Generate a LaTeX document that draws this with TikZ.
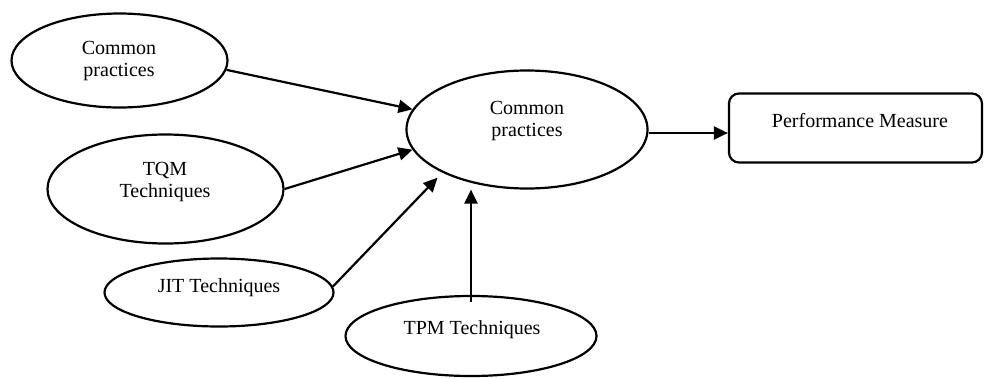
\documentclass[tikz,border=0pt]{standalone}
\usepackage{fontspec}
\setmainfont{Liberation Serif}
\usetikzlibrary{shapes.geometric,arrows.meta}
\begin{document}
\begin{tikzpicture}[x=1pt,y=-1pt,
  oval/.style={draw, ellipse, line width=2.2pt, inner sep=0pt},
  lbl/.style={font=\fontsize{20}{22}\selectfont, align=center, inner sep=0pt},
  arr/.style={line width=2.2pt, -{Triangle[length=14pt,width=13pt]}},
  pbox/.style={draw, rectangle, rounded corners=10pt, line width=2.2pt, minimum width=253pt, minimum height=69pt, inner sep=0pt}
]
\useasboundingbox (0,0) rectangle (985,378);
\node[oval, minimum width=216pt, minimum height=94pt] (A) at (119.5,60.5) {};
\node[lbl] (At) at (119,61) {Common\\practices};
\node[oval, minimum width=236pt, minimum height=109pt] (B) at (165.5,189) {};
\node[lbl] (Bt) at (165,182.5) {TQM\\Techniques};
\node[oval, minimum width=229pt, minimum height=68pt] (C) at (219,292.5) {};
\node[lbl] (Ct) at (219,288) {JIT Techniques};
\node[oval, minimum width=251pt, minimum height=80pt] (D) at (471,336) {};
\node[lbl] (Dt) at (472,330) {TPM Techniques};
\node[oval, minimum width=241pt, minimum height=118pt] (E) at (527,129.5) {};
\node[lbl] (Et) at (527,121) {Common\\practices};
\node[pbox] (P) at (855.5,128) {};
\node[lbl] (Pt) at (860,121) {Performance Measure};
\draw[arr] (A.-5) -- (E.170);
\draw[arr] (B.east) -- (E.190);
\draw[arr, shorten >=7pt] (C.3) -- (E.207);
\draw[arr] ([yshift=-7pt]D.north) -- (D.north |- E.south);
\coordinate (s5) at ([yshift=-3.5pt]E.east);
\draw[arr] (s5) -- (s5 -| P.west);
\end{tikzpicture}
\end{document}
